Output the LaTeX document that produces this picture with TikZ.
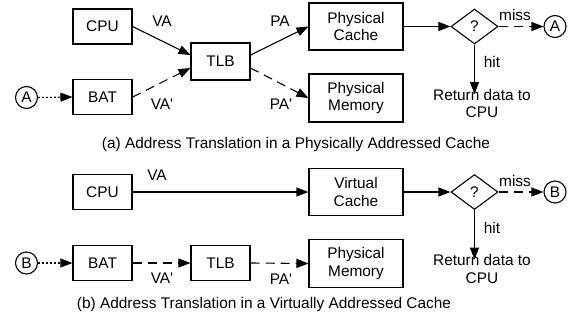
\documentclass[tikz,border=0pt]{standalone}
\usepackage{fontspec}
\setmainfont{Liberation Sans}
\usetikzlibrary{arrows.meta,shapes.geometric}
\begin{document}
\begin{tikzpicture}[x=1pt,y=-1pt,
  font=\fontsize{15.4}{17.7}\selectfont,
  line width=1.1pt,
  box/.style={draw,inner sep=0pt,minimum width=59pt,minimum height=35pt},
  wide/.style={draw,inner sep=0pt,minimum width=94pt,minimum height=47pt,align=center},
  test/.style={draw,shape=diamond,inner sep=0pt,minimum width=47pt,minimum height=35pt},
  port/.style={draw,circle,inner sep=0pt,minimum size=22pt},
  lbl/.style={inner sep=0pt},
  arr/.style={-{Triangle[length=12pt,width=9pt]}},
  dsh/.style={dash pattern=on 9pt off 6pt},
  dot/.style={dash pattern=on 2pt off 2pt},
]
\useasboundingbox (0,0) rectangle (571,322);

% ---------- (a) physically addressed cache ----------
\node[box] (cpuA) at (102.5,26.5) {CPU};
\node[box] (batA) at (102.5,97) {BAT};
\node[box,minimum height=37pt] (tlbA) at (220.5,61.5) {TLB};
\node[wide] (pcache) at (356,26.5) {Physical\\Cache};
\node[wide,minimum height=48pt] (pmemA) at (356,98) {Physical\\Memory};
\node[test] (qA) at (474.5,26.5) {?};
\node[port] (portAr) at (555,26.5) {A};
\node[port] (portAl) at (26.5,97.5) {A};
\coordinate (retA) at (474.5,94);
\node[lbl,align=center] (rettxtA) at (482,103.5) {Return data to\\CPU};

\node[lbl] (vaA) at (162,21) {VA};
\node[lbl] (vapA) at (162,104) {VA\textquotesingle};
\node[lbl] (paA) at (280,21) {PA};
\node[lbl] (papA) at (281,104) {PA\textquotesingle};
\node[lbl] (missA) at (515,15) {miss};
\node[lbl] (hitA) at (492,62) {hit};
\node[lbl] (capA) at (296,145) {(a) Address Translation in a Physically Addressed Cache};

\draw[arr] (cpuA.east) -- ([yshift=6.5pt]tlbA.west);
\draw[arr,dsh] (batA.east) -- ([yshift=-6.5pt]tlbA.west);
\draw[arr] ([yshift=6.5pt]tlbA.east) -- (pcache.west);
\draw[arr,dsh] ([yshift=-6.5pt]tlbA.east) -- (pmemA.west);
\draw[arr] (pcache.east) -- (qA.west);
\draw[arr,dsh] (qA.east) -- (portAr.west);
\draw[arr] (qA.south) -- (retA);
\draw[arr,dot] (portAl.east) -- (batA.west);

% ---------- (b) virtually addressed cache ----------
\node[box] (cpuB) at (102.5,192) {CPU};
\node[box] (batB) at (102.5,263) {BAT};
\node[box] (tlbB) at (220.5,263) {TLB};
\node[wide] (vcache) at (356,192) {Virtual\\Cache};
\node[wide,minimum height=48pt] (pmemB) at (356,263.5) {Physical\\Memory};
\node[test] (qB) at (474.5,192) {?};
\node[port] (portBr) at (555,192) {B};
\node[port] (portBl) at (26.5,263) {B};
\coordinate (retB) at (474.5,259.5);
\node[lbl,align=center] (rettxtB) at (482,269) {Return data to\\CPU};

\node[lbl] (vaB) at (157,175) {VA};
\node[lbl] (vapB) at (162,278) {VA\textquotesingle};
\node[lbl] (papB) at (281,279) {PA\textquotesingle};
\node[lbl] (missB) at (515,180.5) {miss};
\node[lbl] (hitB) at (492,227.5) {hit};
\node[lbl] (capB) at (264,305) {(b) Address Translation in a Virtually Addressed Cache};

\draw[arr] (cpuB.east) -- (vcache.west);
\draw[arr] (vcache.east) -- (qB.west);
\draw[arr,dsh] (qB.east) -- (portBr.west);
\draw[arr] (qB.south) -- (retB);
\draw[arr,dot] (portBl.east) -- (batB.west);
\draw[arr,dsh] (batB.east) -- (tlbB.west);
\draw[arr,dsh] (tlbB.east) -- (pmemB.west);
\end{tikzpicture}
\end{document}
